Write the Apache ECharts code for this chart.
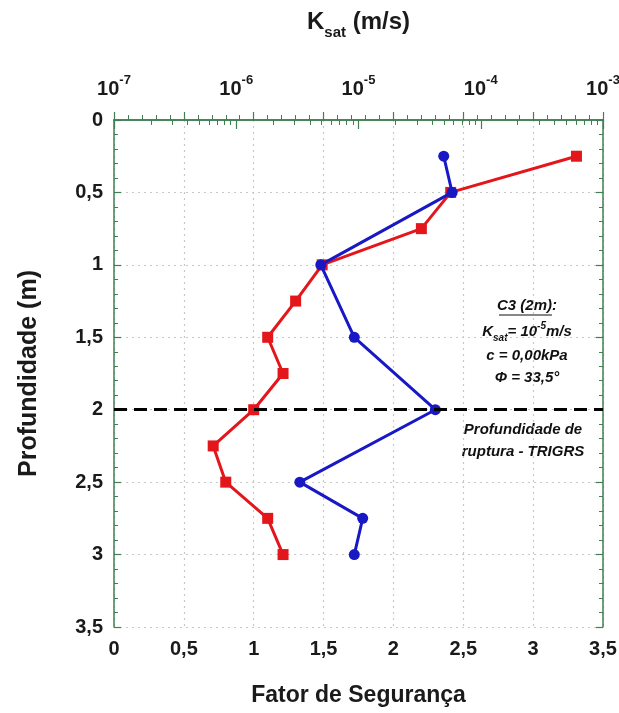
<!DOCTYPE html>
<html>
<head>
<meta charset="utf-8">
<script src="https://cdn.jsdelivr.net/npm/echarts@6/dist/echarts.min.js"></script>
<style>
  html, body { margin: 0; padding: 0; background: #ffffff; }
  #chart { width: 619px; height: 713px; }
</style>
</head>
<body>
<div id="chart"></div>
<script>
// ---- data ----
const depthTicks = [0, 0.5, 1, 1.5, 2, 2.5, 3, 3.5];
const fsTicks = [0, 0.5, 1, 1.5, 2, 2.5, 3, 3.5];
const ksatDecades = [1e-7, 1e-6, 1e-5, 1e-4, 1e-3];

const redDepth = [0.25, 0.5, 0.75, 1.0, 1.25, 1.5, 1.75, 2.0, 2.25, 2.5, 2.75, 3.0];
const redFS    = [3.31, 2.41, 2.20, 1.49, 1.30, 1.10, 1.21, 1.00, 0.71, 0.80, 1.10, 1.21];

const blueDepth = [0.25, 0.5, 1.0, 1.5, 2.0, 2.5, 2.75, 3.0];
const blueFS    = [2.36, 2.42, 1.48, 1.72, 2.30, 1.33, 1.78, 1.72];

const ruptureDepth = 2.0;

// ---- helpers ----
const comma = v => String(v).replace('.', ',');
const minorLog = [];
for (let e = -7; e <= -4; e++) for (let m = 2; m <= 9; m++) minorLog.push(m * Math.pow(10, e));

const FONT = 'Liberation Sans Narrow, Arial Narrow, Liberation Sans, Arial, sans-serif';
const FONTW = 'Liberation Sans, Arial, sans-serif';
const GREEN = '#3f7f52';
const TXT = '#1a1a1a';

const chart = echarts.init(document.getElementById('chart'), null, { renderer: 'canvas' });

const option = {
  backgroundColor: '#ffffff',
  animation: false,
  grid: { left: 114, right: 16, top: 120, bottom: 86, containLabel: false, outerBoundsMode: 'none' },
  xAxis: [
    {
      type: 'value', position: 'bottom', min: 0, max: 3.5, interval: 0.5,
      name: 'Fator de Segurança', nameLocation: 'middle', nameGap: 57,
      nameTextStyle: { fontFamily: FONTW, fontWeight: 'bold', fontSize: 23, color: TXT },
      axisLine: { show: true, lineStyle: { color: GREEN, width: 1.5 } },
      axisTick: { show: true, inside: true, length: 8, lineStyle: { color: GREEN, width: 1.2 } },
      minorTick: { show: true, splitNumber: 5, length: 5, lineStyle: { color: GREEN, width: 1 } },
      axisLabel: { show: true, margin: 12, formatter: v => comma(v), fontFamily: FONT, fontWeight: 'bold', fontSize: 20, color: TXT },
      splitLine: { show: true, lineStyle: { color: '#c8c8c8', type: [2, 4], width: 1.2 } }
    },
    {
      type: 'log', logBase: 10, position: 'top', min: ksatDecades[0], max: ksatDecades[ksatDecades.length - 1],
      name: '{k|K}{s|sat}{k| (m/s)}', nameLocation: 'middle', nameGap: 80,
      nameTextStyle: {
        rich: {
          k: { fontFamily: FONTW, fontWeight: 'bold', fontSize: 24, lineHeight: 36, color: TXT },
          s: { fontFamily: FONTW, fontWeight: 'bold', fontSize: 15, lineHeight: 14, verticalAlign: 'bottom', color: TXT }
        }
      },
      axisLine: { show: true, lineStyle: { color: GREEN, width: 1.5 } },
      axisTick: { show: true, inside: true, length: 9, lineStyle: { color: GREEN, width: 1.2 } },
      axisLabel: {
        show: true, margin: 16,
        formatter: v => '{b|10}{s|' + Math.round(Math.log10(v)) + '}',
        rich: {
          b: { fontFamily: FONT, fontWeight: 'bold', fontSize: 20, lineHeight: 30, color: TXT },
          s: { fontFamily: FONT, fontWeight: 'bold', fontSize: 13, lineHeight: 13, verticalAlign: 'top', color: TXT }
        }
      },
      splitLine: { show: false }
    },
    {
      type: 'log', logBase: 10, position: 'top', min: ksatDecades[0], max: ksatDecades[ksatDecades.length - 1],
      axisLine: { show: false },
      axisTick: { show: true, inside: true, length: 5, customValues: minorLog, lineStyle: { color: GREEN, width: 1 } },
      axisLabel: { show: false },
      splitLine: { show: false }
    }
  ],
  yAxis: [
    {
      type: 'value', position: 'left', inverse: true, min: 0, max: 3.5, interval: 0.5,
      name: 'Profundidade (m)', nameLocation: 'middle', nameGap: 72, nameRotate: 90,
      nameTextStyle: { fontFamily: FONTW, fontWeight: 'bold', fontSize: 25, color: TXT },
      axisLine: { show: true, lineStyle: { color: GREEN, width: 1.5 } },
      axisTick: { show: true, inside: true, length: 7, lineStyle: { color: GREEN, width: 1.2 } },
      minorTick: { show: true, splitNumber: 5, length: 4, lineStyle: { color: GREEN, width: 1 } },
      axisLabel: { show: true, margin: 11, formatter: v => comma(v), fontFamily: FONT, fontWeight: 'bold', fontSize: 20, color: TXT },
      splitLine: { show: true, lineStyle: { color: '#c8c8c8', type: [2, 4], width: 1.2 } }
    },
    {
      type: 'value', position: 'right', inverse: true, min: 0, max: 3.5, interval: 0.5,
      axisLine: { show: true, lineStyle: { color: GREEN, width: 1.5 } },
      axisTick: { show: true, inside: true, length: 7, lineStyle: { color: GREEN, width: 1.2 } },
      minorTick: { show: true, splitNumber: 5, length: 4, lineStyle: { color: GREEN, width: 1 } },
      axisLabel: { show: false },
      splitLine: { show: false }
    }
  ],
  series: [
    {
      name: 'FS red', type: 'line', xAxisIndex: 0, yAxisIndex: 0,
      data: redFS.map((v, i) => [v, redDepth[i]]),
      symbol: 'rect', symbolSize: 11, showSymbol: true,
      lineStyle: { color: '#e3161b', width: 3 },
      itemStyle: { color: '#e3161b' },
      z: 3,
      markLine: {
        silent: true, symbol: 'none', label: { show: false },
        lineStyle: { color: '#000000', width: 3, type: [13, 7] },
        data: [{ yAxis: ruptureDepth }]
      }
    },
    {
      name: 'FS blue', type: 'line', xAxisIndex: 0, yAxisIndex: 0,
      data: blueFS.map((v, i) => [v, blueDepth[i]]),
      symbol: 'circle', symbolSize: 11, showSymbol: true,
      lineStyle: { color: '#1818c4', width: 3 },
      itemStyle: { color: '#1818c4' },
      z: 4
    }
  ]
};

const annoFont = { fontFamily: FONTW, fontWeight: 'bold', fontStyle: 'italic', fill: '#111111' };
option.graphic = [
  { type: 'text', x: 527, y: 306, style: Object.assign({ text: 'C3 (2m):', fontSize: 15, align: 'center', verticalAlign: 'middle' }, annoFont) },
  { type: 'line', shape: { x1: 499, y1: 315, x2: 552, y2: 315 }, style: { stroke: '#111111', lineWidth: 1.2 } },
  { type: 'text', x: 527, y: 332, style: Object.assign({
      text: '{m|K}{sub|sat}{m|= 10}{sup|-5}{m|m/s}', align: 'center', verticalAlign: 'middle',
      rich: {
        m: Object.assign({ fontSize: 15, lineHeight: 22 }, annoFont),
        sub: Object.assign({ fontSize: 10, lineHeight: 10, verticalAlign: 'bottom' }, annoFont),
        sup: Object.assign({ fontSize: 10, lineHeight: 10, verticalAlign: 'top' }, annoFont)
      }
    }, annoFont) },
  { type: 'text', x: 527, y: 356, style: Object.assign({ text: 'c = 0,00kPa', fontSize: 15, align: 'center', verticalAlign: 'middle' }, annoFont) },
  { type: 'text', x: 527, y: 378, style: Object.assign({ text: 'Φ = 33,5°', fontSize: 15, align: 'center', verticalAlign: 'middle' }, annoFont) },
  { type: 'text', x: 523, y: 430, style: Object.assign({ text: 'Profundidade de', fontSize: 15, align: 'center', verticalAlign: 'middle' }, annoFont) },
  { type: 'text', x: 523, y: 452, style: Object.assign({ text: 'ruptura - TRIGRS', fontSize: 15, align: 'center', verticalAlign: 'middle' }, annoFont) }
];

chart.setOption(option);
</script>
</body>
</html>
